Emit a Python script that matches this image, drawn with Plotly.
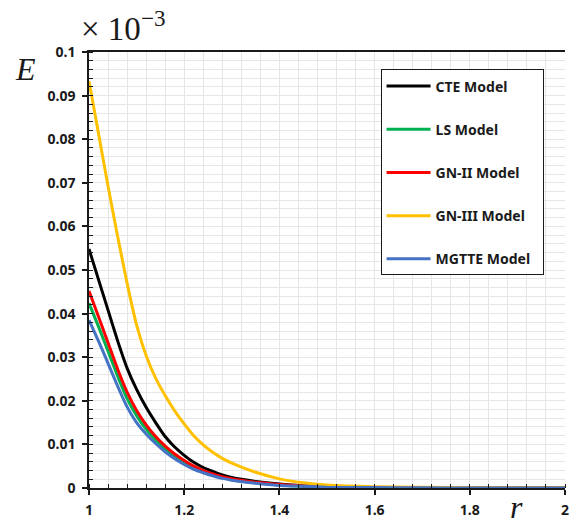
import plotly.graph_objects as go

r = [1.00, 1.02, 1.04, 1.06, 1.08, 1.10, 1.12, 1.14, 1.16, 1.18, 1.20, 1.22, 1.24, 1.26, 1.28, 1.30,
     1.35, 1.40, 1.45, 1.50, 1.60, 1.70, 1.80, 1.90, 2.00]

cte = [0.0548, 0.0478, 0.0408, 0.0338, 0.0275, 0.0226, 0.0185, 0.0150, 0.0118, 0.0094, 0.0075,
       0.0059, 0.0047, 0.0038, 0.0030, 0.0024, 0.0015, 0.0009, 0.0005, 0.0003, 0.0001, 0.00005,
       0.00002, 0.00001, 0.0]
ls = [0.0424, 0.0370, 0.0314, 0.0257, 0.0205, 0.0166, 0.0135, 0.0110, 0.0090, 0.0073, 0.0059,
      0.0047, 0.0037, 0.0030, 0.0024, 0.0019, 0.0012, 0.0007, 0.0004, 0.0002, 0.0001, 0.00004,
      0.00002, 0.00001, 0.0]
gn2 = [0.0452, 0.0393, 0.0333, 0.0273, 0.0220, 0.0178, 0.0145, 0.0118, 0.0096, 0.0078, 0.0063,
       0.0050, 0.0040, 0.0032, 0.0026, 0.0021, 0.0013, 0.0008, 0.0005, 0.0003, 0.0001, 0.00004,
       0.00002, 0.00001, 0.0]
gn3 = [0.0933, 0.0813, 0.0692, 0.0578, 0.0470, 0.0374, 0.0304, 0.0252, 0.0212, 0.0177, 0.0147,
       0.0120, 0.0099, 0.0082, 0.0068, 0.0057, 0.0036, 0.0021, 0.0012, 0.0007, 0.0003, 0.00015,
       0.00008, 0.00004, 0.00002]
mgtte = [0.0385, 0.0337, 0.0286, 0.0234, 0.0186, 0.0150, 0.0124, 0.0102, 0.0083, 0.0067, 0.0054,
         0.0043, 0.0035, 0.0028, 0.0022, 0.0018, 0.0011, 0.0006, 0.0004, 0.0002, 0.0001, 0.00003,
         0.00001, 0.0, 0.0]

series = [
    ("CTE Model", cte, "#000000"),
    ("LS Model", ls, "#00B050"),
    ("GN-II Model", gn2, "#FF0000"),
    ("GN-III Model", gn3, "#FFC000"),
    ("MGTTE Model", mgtte, "#4472C4"),
]

x_ticks = [1, 1.2, 1.4, 1.6, 1.8, 2]
x_ticktext = ["1", "1.2", "1.4", "1.6", "1.8", "2"]
y_ticks = [0, 0.01, 0.02, 0.03, 0.04, 0.05, 0.06, 0.07, 0.08, 0.09, 0.1]
y_ticktext = ["0", "0.01", "0.02", "0.03", "0.04", "0.05", "0.06", "0.07", "0.08", "0.09", "0.1"]

pad = "\u00a0" * 2

fig = go.Figure()
for name, vals, col in series:
    fig.add_trace(go.Scatter(x=r, y=vals, mode="lines", name=name + (pad if name == "MGTTE Model" else ""),
                             legendgroup=name,
                             line=dict(color=col, width=3, shape="spline", smoothing=0.5)))

grid = "#e6e6e6"
ink = "#1a1a1a"
tickfont = dict(family="Noto Sans", size=14, color=ink, weight="bold")

fig.update_layout(
    width=569, height=524,
    margin=dict(l=89, r=0, t=52, b=36),
    paper_bgcolor="white", plot_bgcolor="white",
    showlegend=True,
    legend=dict(x=0.6125, y=0.960, xanchor="left", yanchor="top",
                bgcolor="white", bordercolor=ink, borderwidth=1,
                font=dict(family="Noto Sans", size=14, color=ink, weight="bold"),
                itemwidth=44, tracegroupgap=22),
    xaxis=dict(range=[1, 2], tickvals=x_ticks, ticktext=x_ticktext,
               showgrid=True, gridcolor=grid, gridwidth=1,
               showline=True, linecolor=ink, linewidth=1.5, mirror=True,
               ticks="outside", ticklen=5, tickcolor=ink, tickwidth=1.5,
               tickfont=tickfont, zeroline=False, ticklabeloverflow="allow",
               ticklabelstandoff=3,
               minor=dict(dtick=0.04, tick0=1, showgrid=True, gridcolor=grid, gridwidth=1,
                          ticks="inside", ticklen=4, tickcolor=ink, tickwidth=1)),
    yaxis=dict(range=[0, 0.1], tickvals=y_ticks, ticktext=y_ticktext,
               showgrid=True, gridcolor=grid, gridwidth=1,
               showline=True, linecolor=ink, linewidth=1.5,
               ticks="outside", ticklen=5, tickcolor=ink, tickwidth=1.5,
               tickfont=tickfont, zeroline=False, ticklabeloverflow="allow",
               ticklabelstandoff=4,
               minor=dict(dtick=0.002, tick0=0, showgrid=True, gridcolor=grid, gridwidth=1,
                          ticks="inside", ticklen=4, tickcolor=ink, tickwidth=1)),
)

fig.add_annotation(text="× 10<sup>−3</sup>", xref="paper", yref="paper",
                   x=-0.02, y=1.0, xanchor="left", yanchor="bottom", yshift=3,
                   showarrow=False,
                   font=dict(family="Liberation Serif", size=33, color=ink))
fig.add_annotation(text="<i>E</i>", xref="paper", yref="paper",
                   x=-0.16, y=0.96, xanchor="left", yanchor="middle",
                   showarrow=False,
                   font=dict(family="Liberation Serif", size=32, color=ink))
fig.add_annotation(text="<i>r</i>", xref="paper", yref="paper",
                   x=0.88, y=-0.044, xanchor="left", yanchor="middle",
                   showarrow=False,
                   font=dict(family="Liberation Serif", size=32, color=ink))

fig.write_html("out.html")
